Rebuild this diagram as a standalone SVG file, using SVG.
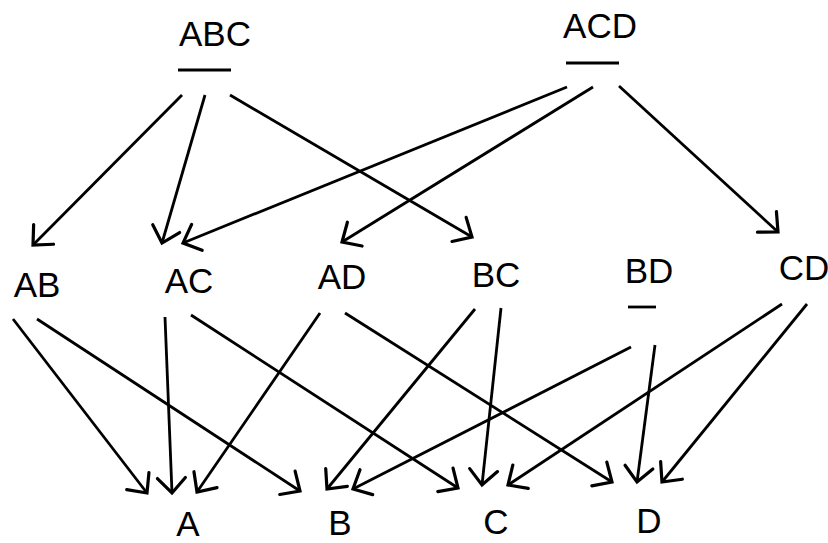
<svg xmlns="http://www.w3.org/2000/svg" width="828" height="543" viewBox="0 0 828 543">
<style>
.lbl{font-family:"Liberation Sans",Arial,sans-serif;font-size:35px;fill:#000;text-anchor:middle}
.bar{stroke:#000;stroke-width:2.8;fill:none}
.edge{stroke:#000;stroke-width:2.8;fill:none;marker-end:url(#head)}
</style>
<defs>
<marker id="head" markerUnits="userSpaceOnUse" viewBox="-18 -16 20 32" refX="0" refY="0" markerWidth="20" markerHeight="32" orient="auto" overflow="visible">
<path d="M-15,-14 L0,0 L-15,14" fill="none" stroke="#000" stroke-width="3.2" stroke-linejoin="miter" stroke-linecap="round"/>
</marker>
</defs>
<rect width="828" height="543" fill="#fff"/>
<g id="ABC"><text class="lbl" x="215" y="46">ABC</text><line class="bar" x1="178" y1="70" x2="231" y2="70"/></g>
<g id="ACD"><text class="lbl" x="600" y="38">ACD</text><line class="bar" x1="566" y1="63" x2="619" y2="63"/></g>
<g id="AB"><text class="lbl" x="37" y="297">AB</text></g>
<g id="AC"><text class="lbl" x="189" y="293">AC</text></g>
<g id="AD"><text class="lbl" x="342" y="289">AD</text></g>
<g id="BC"><text class="lbl" x="496" y="287">BC</text></g>
<g id="BD"><text class="lbl" x="649" y="283">BD</text><line class="bar" x1="628" y1="307" x2="656" y2="307"/></g>
<g id="CD"><text class="lbl" x="804" y="280">CD</text></g>
<g id="A"><text class="lbl" x="188" y="536">A</text></g>
<g id="B"><text class="lbl" x="340" y="535">B</text></g>
<g id="C"><text class="lbl" x="496" y="534">C</text></g>
<g id="D"><text class="lbl" x="649" y="533">D</text></g>
<g id="connectors">
<line class="edge" x1="182" y1="95" x2="33" y2="245"/>
<line class="edge" x1="205" y1="95" x2="162" y2="243"/>
<line class="edge" x1="230" y1="95" x2="472" y2="237"/>
<line class="edge" x1="567" y1="87" x2="183" y2="243"/>
<line class="edge" x1="593" y1="87" x2="342" y2="242"/>
<line class="edge" x1="619" y1="86" x2="778" y2="232"/>
<line class="edge" x1="13" y1="319" x2="147" y2="493"/>
<line class="edge" x1="37" y1="319" x2="300" y2="491"/>
<line class="edge" x1="165" y1="317" x2="172" y2="493"/>
<line class="edge" x1="191" y1="315" x2="458" y2="488"/>
<line class="edge" x1="320" y1="313" x2="197" y2="492"/>
<line class="edge" x1="345" y1="313" x2="612" y2="482"/>
<line class="edge" x1="475" y1="309" x2="327" y2="489"/>
<line class="edge" x1="501" y1="308" x2="482" y2="485"/>
<line class="edge" x1="631" y1="347" x2="353" y2="489"/>
<line class="edge" x1="655" y1="345" x2="637" y2="482"/>
<line class="edge" x1="782" y1="304" x2="508" y2="485"/>
<line class="edge" x1="807" y1="304" x2="662" y2="482"/>
</g>
</svg>
